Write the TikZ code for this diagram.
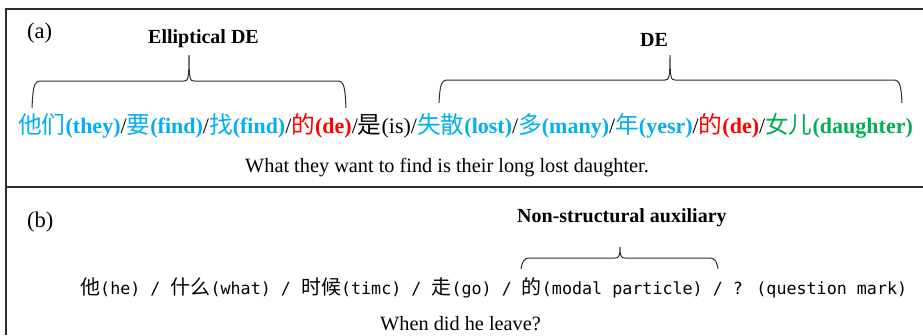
\documentclass[tikz,border=0pt]{standalone}
\usepackage{fontspec}
\setmainfont{Liberation Serif}
\newfontfamily\cjk{Noto Sans CJK SC}
\newfontfamily\monof{DejaVu Sans Mono}
\definecolor{cblue}{RGB}{0,176,240}
\definecolor{cred}{RGB}{255,0,0}
\definecolor{cgreen}{RGB}{0,176,80}
\definecolor{frame}{RGB}{45,45,45}
\newcommand\zh[1]{{\cjk\fontsize{23.7}{24}\selectfont #1}}
\newcommand\zb[1]{{\cjk\fontsize{20}{20}\selectfont #1}}
\newcommand\bracepath[6]{%
  \draw[bracestyle] (#1,#4) .. controls (#1+1,#5+5) and (#1+2,#5) .. (#1+9,#5)
    -- (#3-5,#5) .. controls (#3-1,#5) and (#3,#5-2) .. (#3,#6)
    .. controls (#3,#5-2) and (#3+1,#5) .. (#3+5,#5)
    -- (#2-9,#5) .. controls (#2-2,#5) and (#2-1,#5+5) .. (#2,#4);}
\tikzset{
  bracestyle/.style={draw=frame, line width=1pt},
  framestyle/.style={draw=frame, line width=2pt},
  lbl/.style={anchor=base west, inner sep=0pt, font=\fontsize{20}{24}\selectfont\bfseries},
  tag/.style={anchor=base west, inner sep=0pt, font=\fontsize{22.5}{26}\selectfont},
  gloss/.style={anchor=base west, inner sep=0pt, font=\fontsize{20.3}{24}\selectfont},
}
\begin{document}
\begin{tikzpicture}[x=1pt,y=-1pt]
\useasboundingbox (0,0) rectangle (923,335);
\fill[white] (0,0) rectangle (923,335);
% frame
\coordinate (tl) at (6,9);
\coordinate (tr) at (923,9);
\coordinate (bl) at (6,335);
\coordinate (ml) at (6,187);
\coordinate (mr) at (923,187);
\draw[framestyle] (tr) -- (tl) -- (bl);
\draw[framestyle] (ml) -- (mr);
% panel a
\node[tag] (ta) at (27,38) {(a)};
\node[lbl] (ell) at (148,43) {Elliptical DE};
\node[lbl] (de) at (640,46) {DE};
\bracepath{32}{346}{189}{108}{81}{55}
\bracepath{439}{902}{670}{103}{80}{55}
\node[anchor=base west, inner sep=0pt, font=\fontsize{22}{26}\selectfont] (sa) at (18,133)
 {{\color{cblue}\zh{他们}\textbf{(they)}}/{\color{cblue}\zh{要}\textbf{(find)}}/{\color{cblue}\zh{找}\textbf{(find)}}/{\color{cred}\zh{的}\textbf{(de)}}/\zh{是}(is)/{\color{cblue}\zh{失散}\textbf{(lost)}}/{\color{cblue}\zh{多}\textbf{(many)}}/{\color{cblue}\zh{年}\textbf{(yesr)}}/{\color{cred}\zh{的}\textbf{(de)}}/{\color{cgreen}\zh{女儿}\textbf{(daughter)}}};
\node[gloss] (ga) at (245,172) {What they want to find is their long lost daughter.};
% panel b
\node[tag] (tb) at (27,227) {(b)};
\node[lbl] (nsa) at (517,222) {Non-structural auxiliary};
\bracepath{521}{718}{620}{269}{258}{247}
\node[anchor=base west, inner sep=0pt, font=\monof\fontsize{16.7}{20}\selectfont] (sb) at (80,294)
 {\zb{他}(he) / \zb{什么}(what) / \zb{时候}(timc) / \zb{走}(go) / \zb{的}(modal particle) / ? (question mark)};
\node[gloss] (gb) at (380,330) {When did he leave?};
\end{tikzpicture}
\end{document}
